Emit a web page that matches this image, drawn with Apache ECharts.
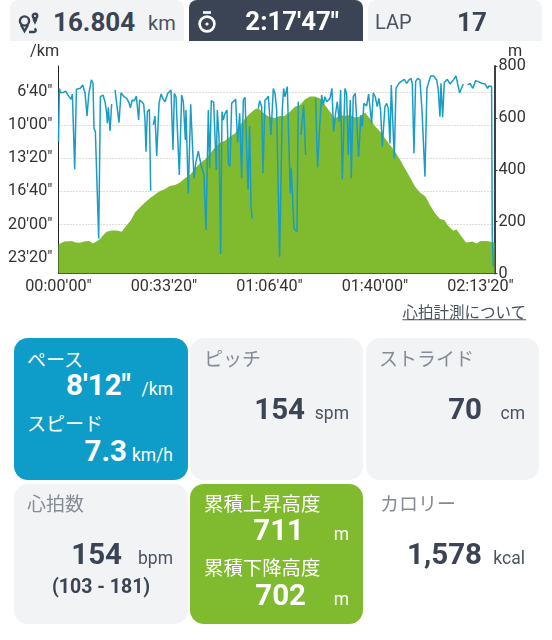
<!DOCTYPE html>
<html>
<head>
<meta charset="utf-8">
<script src="https://cdn.jsdelivr.net/npm/echarts@6/dist/echarts.min.js"></script>
<style>
    html, body { margin: 0; padding: 0; background: #fff; }
    body { width: 552px; height: 640px; position: relative; overflow: hidden;
        font-family: Roboto, "Noto Sans CJK JP", sans-serif; color: #3a4454; }
    #chart { position: absolute; left: 0; top: 0; width: 552px; height: 640px; }
    .box { position: absolute; }
    .tab { top: 0; height: 41px; width: 174px; background: #f1f3f5; border-top-left-radius: 8px; border-top-right-radius: 8px; }
    .card { width: 174px; height: 142px; border-radius: 14px; background: #f2f3f5; }
    .t { position: absolute; white-space: nowrap; line-height: 1; transform: translateY(-50%); }
    .num { font-weight: 700; font-size: 29.5px; }
    .unit { font-size: 17.5px; color: #4a5360; }
    .label { font-size: 19px; color: #858c95; font-family: "Noto Sans CJK JP", sans-serif; }
    .white { color: #fff; }
</style>
</head>
<body>
<div id="chart"></div>

<div class="box tab" style="left:10px"></div>
<div class="box tab" style="left:189px;background:#3a4454"></div>
<div class="box tab" style="left:368px"></div>
<svg class="box" style="left:17px;top:11px" width="24" height="24" viewBox="0 0 24 24" fill="none" stroke="#3a4454" stroke-width="2.4">
    <circle cx="7.5" cy="10" r="4.6"/><path d="M4 14l3.5 6 3.5-6"/><circle cx="18" cy="5" r="2.2"/><path d="M16.5 8l1.5 3 1.5-3M12 21h5c2 0 2.5-2.5 .5-3.5"/>
</svg>
<svg class="box" style="left:197px;top:10px" width="20" height="24" viewBox="0 0 20 24" fill="none" stroke="#fff" stroke-width="2.6">
    <circle cx="10" cy="14" r="7.4"/><path d="M6 2.5h8"/><circle cx="10" cy="14" r="1.6" fill="#fff" stroke="none"/>
</svg>
<span class="t" style="left:53px;top:22px;font-size:26px;font-weight:700">16.804</span>
<span class="t" style="left:148px;top:23px;font-size:20px;color:#4a5360">km</span>
<span class="t white" style="right:213px;top:22px;font-size:25.8px;font-weight:700">2:17'47"</span>
<span class="t" style="left:375px;top:22px;font-size:20px;color:#4a5360">LAP</span>
<span class="t" style="left:457px;top:22px;font-size:26px;font-weight:700">17</span>

<span class="t" style="right:26px;top:312px;font-size:15.5px;color:#4a5360;text-decoration:underline;font-family:'Noto Sans CJK JP'">心拍計測について</span>

<div class="box card" style="left:14px;top:338px;background:#0e9cc8"></div>
<div class="box card" style="left:190px;top:338px;width:173px"></div>
<div class="box card" style="left:366px;top:338px;width:173px"></div>
<div class="box card" style="left:14px;top:484px;height:140px"></div>
<div class="box card" style="left:190px;top:484px;width:173px;height:140px;background:#80ba2f"></div>

<span class="t label white" style="left:27px;top:358px">ペース</span>
<span class="t num white" style="right:421px;top:386px">8'12"</span>
<span class="t unit white" style="right:379px;top:390px">/km</span>
<span class="t label white" style="left:27px;top:422px">スピード</span>
<span class="t num white" style="right:425px;top:452px">7.3</span>
<span class="t unit white" style="right:379px;top:456px">km/h</span>

<span class="t label" style="left:204px;top:357px">ピッチ</span>
<span class="t num" style="right:247px;top:410px">154</span>
<span class="t unit" style="right:203px;top:414px">spm</span>

<span class="t label" style="left:379px;top:357px">ストライド</span>
<span class="t num" style="right:70px;top:410px">70</span>
<span class="t unit" style="right:27px;top:414px">cm</span>

<span class="t label" style="left:27px;top:502px">心拍数</span>
<span class="t num" style="right:430px;top:555px">154</span>
<span class="t unit" style="right:379px;top:559px">bpm</span>
<span class="t" style="left:52px;top:587px;font-size:19.5px;font-weight:700">(103 - 181)</span>

<span class="t label white" style="left:204px;top:503px;font-size:19.4px">累積上昇高度</span>
<span class="t num white" style="right:248px;top:531px">711</span>
<span class="t unit white" style="right:203px;top:535px">m</span>
<span class="t label white" style="left:204px;top:567px;font-size:19.4px">累積下降高度</span>
<span class="t num white" style="right:246px;top:596px">702</span>
<span class="t unit white" style="right:203px;top:600px">m</span>

<span class="t label" style="left:380px;top:502px">カロリー</span>
<span class="t num" style="right:70px;top:555px">1,578</span>
<span class="t unit" style="right:27px;top:559px">kcal</span>

<script>
// elapsed seconds / altitude in metres
const elevTimes = [0, 60, 124, 174, 250, 326, 408, 503, 585, 648, 724, 787, 850, 914, 1008, 1103, 1198, 1274, 1375, 1451,
    1546, 1640, 1735, 1830, 1925, 2020, 2114, 2209, 2303, 2398, 2493, 2588, 2683, 2777, 2872, 2967, 3062, 3157, 3251, 3346,
    3441, 3536, 3630, 3725, 3789, 3883, 3978, 4104, 4199, 4294, 4388, 4483, 4578, 4673, 4768, 4862, 4957, 5052, 5147, 5242,
    5336, 5431, 5526, 5621, 5716, 5810, 5905, 6000, 6095, 6190, 6285, 6380, 6474, 6569, 6664, 6759, 6854, 6961, 7043, 7138,
    7233, 7315, 7391, 7486, 7549, 7631, 7726, 7802, 7846, 7928, 7991, 8086, 8181, 8267];
const elevValues = [111, 119, 124, 123, 125, 120, 119, 124, 125, 116, 123, 133, 148, 161, 166, 166, 161, 181, 206, 235,
    255, 274, 290, 305, 318, 326, 337, 341, 351, 367, 380, 405, 425, 440, 463, 486, 504, 512, 528, 540,
    572, 598, 617, 633, 637, 620, 605, 600, 607, 608, 624, 643, 650, 671, 682, 682, 675, 650, 624, 598,
    611, 608, 611, 601, 605, 621, 598, 569, 547, 521, 495, 470, 440, 405, 371, 335, 312, 296, 264, 232,
    210, 206, 183, 165, 170, 146, 120, 121, 123, 116, 124, 125, 123, 119];

// elapsed seconds / pace in seconds per km, null is a hole in the line
const paceTimes = [0, 16, 41, 92, 136, 168, 199, 237, 263, 307, 339, 376, 414, 459, 503, 541, 572, 623, 654, 673, 699, 724, 762, 794, 825, 844, 882, 914, 926, 945, 977, 1008, 1040,
    1072, 1103, 1147, 1185, 1211, 1242, 1293, 1337, 1362, 1400, 1438, 1476, 1520, 1539, 1577, 1615, 1640, 1659, 1685, 1723, 1748, 1780,
    1798, 1830, 1862, 1906, 1944, 1988, 2020, 2070, 2133, 2171, 2196, 2228, 2291, 2335, 2367, 2405, 2417, 2442, 2461, 2506, 2569, 2600, 2651, 2702, 2727, 2758, 2796,
    2841, 2866, 2897, 2942, 2992, 3011, 3043, 3074, 3100, 3125, 3157, 3195, 3220, 3251, 3283, 3315, 3359, 3397, 3435, 3473, 3504, 3536, 3593, 3624, 3650, 3675, 3720,
    3789, 3814, 3852, 3877, 3915, 3953, 3978, 4029, 4073, 4105, 4136, 4192, 4243, 4268, 4294, 4338, 4395, 4414, 4464, 4521, 4546, 4570,
    4597, 4648, 4685, 4800,
    4875, 4913, 4945, 4970, 4989, 5020, 5052, 5084, 5147, 5185, 5216, 5254, 5286, 5324, 5349, 5381, 5431, 5463, 5494, 5532, 5551, 5589, 5627, 5690, 5735, 5760, 5791, 5842, 5880, 5937, 5968, 6006, 6044, 6076, 6107, 6139, 6190,
    6222, 6253, 6285, 6310, 6342, 6367, 6399, 6430, 6455, 6493, 6525, 6557, 6601, 6645, 6683, 6708, 6740, 6771, 6809, 6854, 6892, 6948, 6986, 7012, 7056, 7113, 7170, 7201, 7233, 7252, 7283, 7315, 7372, 7422, 7486, 7536, 7606, 7675, 7720,
    7757, 7802, 7858, 7909, 7960, 8023, 8086, 8137, 8162, 8212, 8225, 8244];
const paceValues = [701, 380, 406, 404, 396, 414, 414, 446, 414, 867, 385, 389, 379, 359, 409, 546, 420, 329, 349, 620, 640, 630, 1283, 430, 440, 420, 460, 530, 590, 494, 636, 474, null,
    389, 385, 586, 406, 400, 430, 440, 466, 496, 450, 454, 426, 570, 450, 460, 474, 570, 761, 520, 506, 996, null,
    600, 546, 787, 470, 414, 446, 460, 410, 389, 751, 410, 430, 901, 420, 460, 690, 510, 506, 1012, 476, 921, 831, 757, 841, 831, 901, 1232,
    510, 861, 454, 464, 871, 510, 670, 1377, 520, 570, 530, 510, 831, 851, 470, 470, 446, 706, 530, 921, 450, 434, 987, 606, 1092, 1162, null,
    500, 454, 490, 891, 450, 440, 426, 660, 380, 410, 506, 1393, 510, 380, 430, 369, 1012, 861, 1222, 1242, 460, null,
    660, 480, 781, null,
    440, 855, 650, 660, 420, 480, 430, 460, 440, 380, 640, 530, 460, 580, 389, 927, 380, 410, 781, 450, 921, 430, 410, 791, 540, 610, 470, 486, 414, 590, 406, 430, 490, 440, 510, 731, 490,
    470, 500, 711, 359, 369, 801, 379, 389, 349, 339, 329, 325, 349, 329, 319, 349, 771, 339, 319, 329, 510, 911, 379, 369, 305, 305, 329, 389, 550, 349, 554, 345, 325, 353, 329, 305, 406, 353, null,
    359, 349, 379, 333, 339, 349, 353, 379, 365, 369, 1273, 1453];

const paceTicks = [400, 600, 800, 1000, 1200, 1400];
const elevTicks = [0, 200, 400, 600, 800];
const timeTicks = [0, 2000, 4000, 6000, 8000];

const pad = n => String(n).padStart(2, '0');
const fmtClock = s => pad(Math.floor(s / 3600)) + ':' + pad(Math.floor(s % 3600 / 60)) + "'" + pad(s % 60) + '"';
const fmtPace = s => Math.floor(s / 60) + "'" + pad(s % 60) + '"';

const textStyle = { color: '#333', fontSize: 16.2, fontFamily: 'Roboto' };

let myChart = echarts.init(document.getElementById('chart'));
let option = {
    animation: false,
    grid: { left: 58.5, right: 57.5, top: 66, bottom: 366.5 },
    graphic: [
        { type: 'text', left: 30, top: 44, style: { text: '/km', fill: '#333', font: '16.2px Roboto' } },
        { type: 'text', left: 508, top: 44, style: { text: 'm', fill: '#333', font: '16.2px Roboto' } }
    ],
    xAxis: {
        type: 'value',
        min: 0,
        max: 8267,
        axisLine: { lineStyle: { color: '#36471f', width: 1 } },
        axisTick: { show: false },
        splitLine: { show: false },
        axisLabel: { ...textStyle, margin: 5, customValues: timeTicks, formatter: fmtClock }
    },
    yAxis: [
        {
            type: 'value',
            inverse: true,
            min: 245,
            max: 1494,
            axisLine: { show: true, onZero: false, lineStyle: { color: '#222', width: 1 } },
            axisTick: { show: false, customValues: paceTicks },
            splitLine: { show: true, lineStyle: { color: '#bbb', type: [1, 2], width: 1 } },
            axisLabel: { ...textStyle, margin: 6, customValues: paceTicks, formatter: fmtPace }
        },
        {
            type: 'value',
            position: 'right',
            min: 0,
            max: 800,
            interval: 200,
            axisLine: { show: true, onZero: false, lineStyle: { color: '#3d4145', width: 2 } },
            axisTick: { show: true, length: 3, lineStyle: { color: '#3d4145', width: 1 } },
            splitLine: { show: false },
            axisLabel: { ...textStyle, margin: 4, customValues: elevTicks }
        }
    ],
    series: [
        {
            type: 'line',
            yAxisIndex: 1,
            showSymbol: false,
            lineStyle: { width: 0 },
            areaStyle: { color: '#80ba2f', opacity: 1 },
            data: elevTimes.map((t, i) => [t, elevValues[i]])
        },
        {
            type: 'line',
            yAxisIndex: 0,
            showSymbol: false,
            connectNulls: false,
            lineStyle: { color: '#1a9dc4', width: 1.5 },
            data: paceTimes.map((t, i) => [t, paceValues[i]])
        }
    ]
};
option && myChart.setOption(option);
</script>
</body>
</html>
